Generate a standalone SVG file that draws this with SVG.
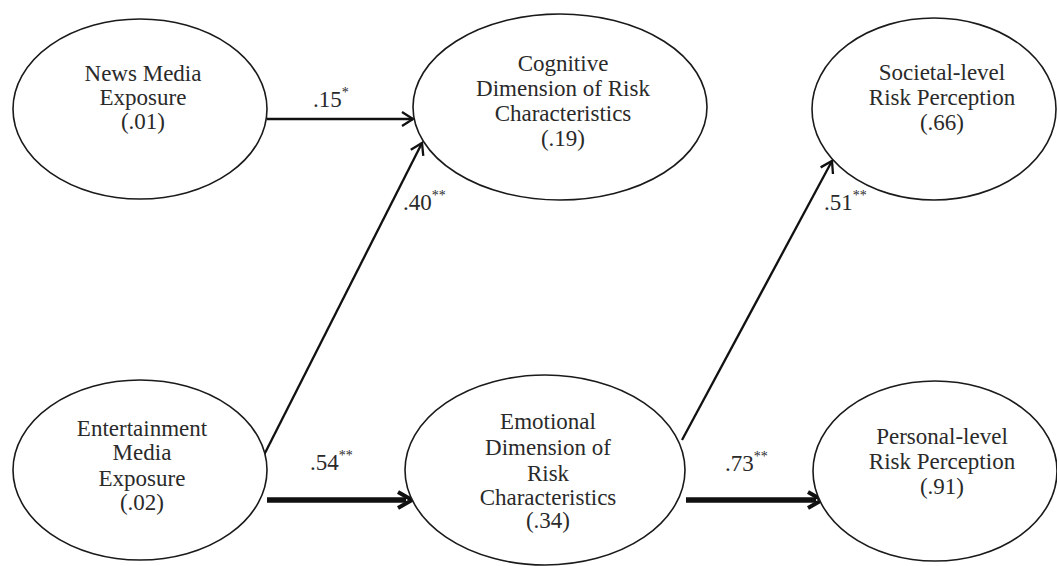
<svg xmlns="http://www.w3.org/2000/svg" width="1057" height="566" viewBox="0 0 1057 566">
<defs>
<style>
.node ellipse{fill:#fff;stroke:#1a1a1a;stroke-width:1.6}
.node text{font-family:"Liberation Serif","Times New Roman",serif;font-size:23px;fill:#2a2a2a;text-anchor:middle}
.lbl{font-family:"Liberation Serif","Times New Roman",serif;font-size:23px;fill:#2a2a2a}
.sup{font-size:14px}
.thin{stroke:#111;stroke-width:2.3;fill:none;marker-end:url(#ah)}
.thick{stroke:#111;stroke-width:5.5;fill:none;marker-end:url(#ahT)}
</style>
<marker id="ah" markerUnits="userSpaceOnUse" viewBox="0 0 18 20" markerWidth="18" markerHeight="20" refX="14" refY="10" orient="auto">
<path d="M3,3 L14,10 L3,17" fill="none" stroke="#111" stroke-width="2.3" stroke-linejoin="miter"/>
</marker>
<marker id="ahT" markerUnits="userSpaceOnUse" viewBox="0 0 22 24" markerWidth="22" markerHeight="24" refX="11" refY="12" orient="auto">
<path d="M3,4 L17,12 L3,20" fill="none" stroke="#111" stroke-width="4" stroke-linejoin="miter"/>
</marker>
</defs>
<rect width="1057" height="566" fill="#fff"/>

<g id="connectors">
<line class="thin" x1="267" y1="119" x2="413" y2="119"/>
<line class="thin" x1="264" y1="455" x2="422" y2="143"/>
<line class="thick" x1="267" y1="500" x2="406" y2="500"/>
<line class="thin" x1="682" y1="440" x2="832" y2="161"/>
<line class="thick" x1="686" y1="500" x2="816" y2="500"/>
<text class="lbl" x="313" y="107">.15<tspan class="sup" dy="-10">*</tspan></text>
<text class="lbl" x="403" y="210">.40<tspan class="sup" dy="-10">**</tspan></text>
<text class="lbl" x="824" y="210">.51<tspan class="sup" dy="-10">**</tspan></text>
<text class="lbl" x="310" y="470">.54<tspan class="sup" dy="-10">**</tspan></text>
<text class="lbl" x="725" y="471">.73<tspan class="sup" dy="-10">**</tspan></text>
</g>

<g id="news" class="node">
<ellipse cx="140" cy="109" rx="127" ry="90"/>
<text x="143" y="81">News Media</text>
<text x="143" y="105">Exposure</text>
<text x="143" y="129">(.01)</text>
</g>

<g id="cognitive" class="node">
<ellipse cx="560" cy="107" rx="147" ry="93"/>
<text x="563" y="71">Cognitive</text>
<text x="563" y="96">Dimension of Risk</text>
<text x="563" y="121">Characteristics</text>
<text x="563" y="146">(.19)</text>
</g>

<g id="societal" class="node">
<ellipse cx="934" cy="109" rx="122" ry="91"/>
<text x="942" y="80">Societal-level</text>
<text x="942" y="105">Risk Perception</text>
<text x="942" y="130">(.66)</text>
</g>

<g id="entertainment" class="node">
<ellipse cx="140" cy="470" rx="127" ry="90"/>
<text x="142" y="436">Entertainment</text>
<text x="142" y="460">Media</text>
<text x="142" y="486">Exposure</text>
<text x="142" y="510">(.02)</text>
</g>

<g id="emotional" class="node">
<ellipse cx="545" cy="470" rx="140" ry="95"/>
<text x="548" y="429">Emotional</text>
<text x="548" y="455">Dimension of</text>
<text x="548" y="481">Risk</text>
<text x="548" y="505">Characteristics</text>
<text x="548" y="528">(.34)</text>
</g>

<g id="personal" class="node">
<ellipse cx="935" cy="471" rx="122" ry="90"/>
<text x="942" y="444">Personal-level</text>
<text x="942" y="469">Risk Perception</text>
<text x="942" y="494">(.91)</text>
</g>
</svg>
